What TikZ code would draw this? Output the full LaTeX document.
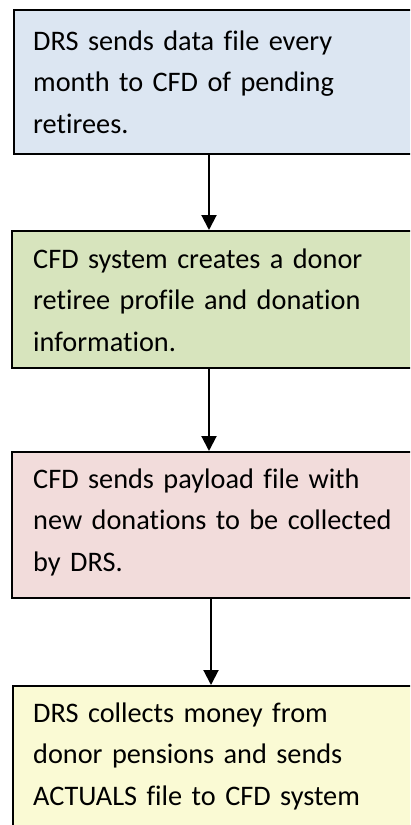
\documentclass[tikz,border=0pt]{standalone}
\usepackage{fontspec}
\setmainfont{Carlito}[RawFeature={-liga}]
\usetikzlibrary{arrows.meta}

\definecolor{boxblue}{RGB}{220,230,242}
\definecolor{boxgreen}{RGB}{215,228,189}
\definecolor{boxpink}{RGB}{242,220,219}
\definecolor{boxyellow}{RGB}{250,250,212}

\tikzset{
  stagebox/.style={draw=black, line width=2pt, anchor=north west,
    inner sep=0pt, minimum width=410pt},
  stagetext/.style={anchor=base west, inner sep=0pt, text width=380pt,
    align=left, font=\fontsize{28.3}{41.7}\selectfont},
  flow/.style={line width=2pt, -{Triangle[width=15pt,length=15pt]}}
}

\begin{document}
\begin{tikzpicture}[x=1pt,y=1pt]
  \useasboundingbox (0,0) rectangle (410,-825);
  \clip (0,0) rectangle (410,-825);
  \fill[white] (0,0) rectangle (410,-825);

  % process stages
  \node[stagebox, fill=boxblue,   minimum height=144pt] (b1) at (13,-9)  {};
  \node[stagebox, fill=boxgreen,  minimum height=137pt] (b2) at (11,-230) {};
  \node[stagebox, fill=boxpink,   minimum height=146pt] (b3) at (11,-451) {};
  \node[stagebox, fill=boxyellow, minimum height=170pt] (b4) at (12,-685) {};

  \node[stagetext] (t1) at (33,-50)  {DRS sends data file every\\month to CFD of pending\\retirees.};
  \node[stagetext] (t2) at (33,-268) {CFD system creates a donor\\retiree profile and donation\\information.};
  \node[stagetext] (t3) at (33,-488) {CFD sends payload file with\\new donations to be collected\\by DRS.};
  \node[stagetext] (t4) at (33,-722) {DRS collects money from\\donor pensions and sends\\ACTUALS file to CFD system};

  % connectors between stages
  \coordinate (ax1) at (209,0);
  \coordinate (ax2) at (209,0);
  \coordinate (ax3) at (211,0);
  \draw[flow] (b1.south -| ax1) -- (b2.north -| ax1);
  \draw[flow] (b2.south -| ax2) -- (b3.north -| ax2);
  \draw[flow] (b3.south -| ax3) -- (b4.north -| ax3);
\end{tikzpicture}
\end{document}
